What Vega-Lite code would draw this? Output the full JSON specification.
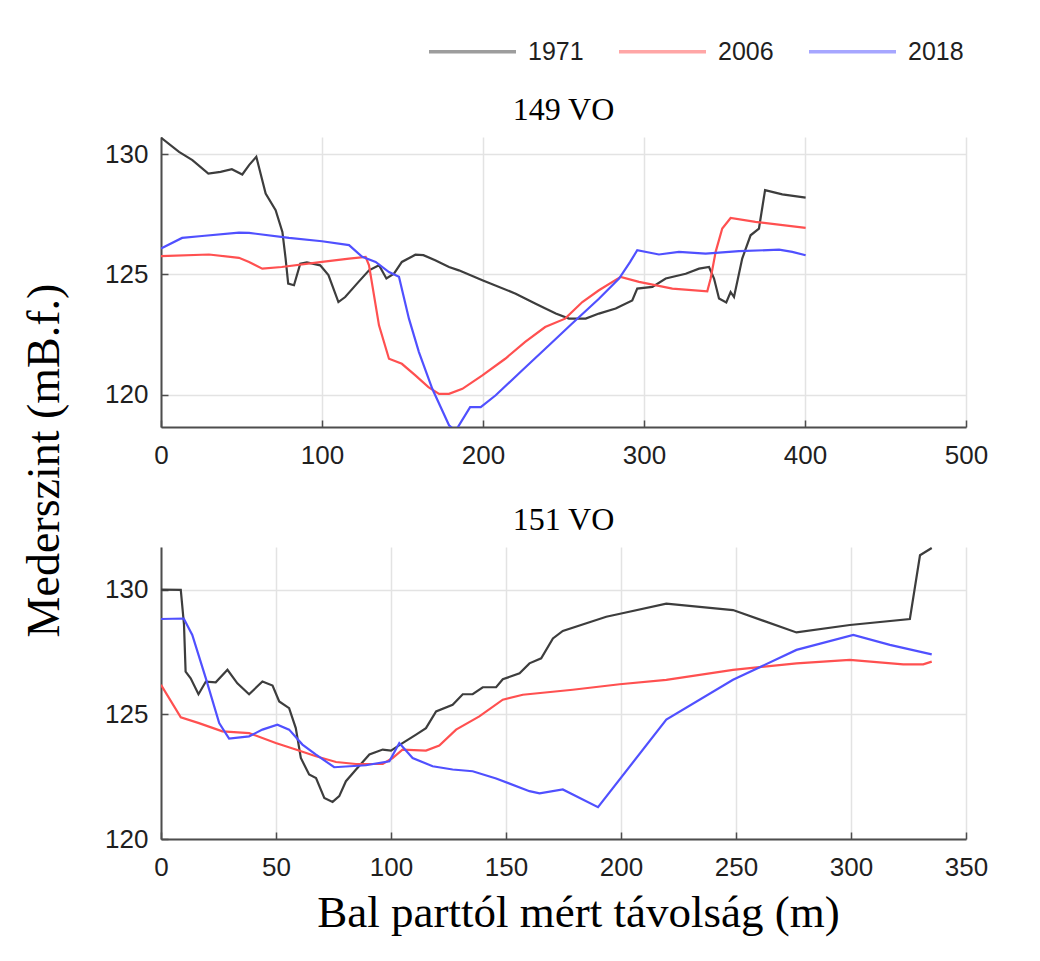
{
  "$schema": "https://vega.github.io/schema/vega-lite/v6.json",
  "background": "white",
  "padding": {"left": 21, "top": 6, "right": 40, "bottom": 20},
  "datasets": {
    "top": [
      {"year":"1971","d":0,"z":130.69},{"year":"1971","d":11.2,"z":130.1},{"year":"1971","d":19.5,"z":129.76},{"year":"1971","d":29.4,"z":129.2},{"year":"1971","d":37,"z":129.27},{"year":"1971","d":44,"z":129.38},{"year":"1971","d":50.5,"z":129.16},{"year":"1971","d":54.7,"z":129.55},{"year":"1971","d":59.2,"z":129.9},{"year":"1971","d":65,"z":128.37},{"year":"1971","d":71.2,"z":127.67},{"year":"1971","d":75.4,"z":126.77},{"year":"1971","d":77.4,"z":125.66},{"year":"1971","d":79,"z":124.62},{"year":"1971","d":82.6,"z":124.55},{"year":"1971","d":86.5,"z":125.45},{"year":"1971","d":90.6,"z":125.5},{"year":"1971","d":98.9,"z":125.38},{"year":"1971","d":104,"z":124.97},{"year":"1971","d":110.2,"z":123.85},{"year":"1971","d":114.4,"z":124.06},{"year":"1971","d":122.7,"z":124.69},{"year":"1971","d":129.2,"z":125.17},{"year":"1971","d":135.4,"z":125.38},{"year":"1971","d":140,"z":124.83},{"year":"1971","d":144.7,"z":125.03},{"year":"1971","d":149.6,"z":125.52},{"year":"1971","d":158,"z":125.82},{"year":"1971","d":163,"z":125.8},{"year":"1971","d":170.3,"z":125.59},{"year":"1971","d":178.9,"z":125.31},{"year":"1971","d":185,"z":125.17},{"year":"1971","d":199.6,"z":124.76},{"year":"1971","d":220.3,"z":124.2},{"year":"1971","d":232.7,"z":123.78},{"year":"1971","d":245.2,"z":123.37},{"year":"1971","d":253.4,"z":123.16},{"year":"1971","d":263.8,"z":123.16},{"year":"1971","d":272,"z":123.37},{"year":"1971","d":282.4,"z":123.58},{"year":"1971","d":292.7,"z":123.92},{"year":"1971","d":295.8,"z":124.41},{"year":"1971","d":305.2,"z":124.48},{"year":"1971","d":313.5,"z":124.83},{"year":"1971","d":325.9,"z":125.03},{"year":"1971","d":334.2,"z":125.24},{"year":"1971","d":340.4,"z":125.31},{"year":"1971","d":343.5,"z":124.83},{"year":"1971","d":346.6,"z":124},{"year":"1971","d":351.1,"z":123.83},{"year":"1971","d":353.8,"z":124.27},{"year":"1971","d":355.9,"z":124.06},{"year":"1971","d":361,"z":125.66},{"year":"1971","d":366.2,"z":126.63},{"year":"1971","d":371.4,"z":126.91},{"year":"1971","d":375.2,"z":128.51},{"year":"1971","d":385.9,"z":128.33},{"year":"1971","d":400.4,"z":128.2},
      {"year":"2006","d":0,"z":125.76},{"year":"2006","d":29.8,"z":125.83},{"year":"2006","d":48.4,"z":125.69},{"year":"2006","d":54.7,"z":125.52},{"year":"2006","d":62.9,"z":125.24},{"year":"2006","d":75,"z":125.31},{"year":"2006","d":100,"z":125.52},{"year":"2006","d":116.8,"z":125.66},{"year":"2006","d":127.1,"z":125.73},{"year":"2006","d":129.2,"z":125.38},{"year":"2006","d":135.4,"z":122.88},{"year":"2006","d":141.6,"z":121.49},{"year":"2006","d":149.6,"z":121.28},{"year":"2006","d":158,"z":120.8},{"year":"2006","d":166.1,"z":120.31},{"year":"2006","d":172.7,"z":120.03},{"year":"2006","d":178.9,"z":120.03},{"year":"2006","d":187.2,"z":120.24},{"year":"2006","d":199.6,"z":120.8},{"year":"2006","d":213.8,"z":121.49},{"year":"2006","d":226.2,"z":122.19},{"year":"2006","d":238.6,"z":122.81},{"year":"2006","d":251,"z":123.16},{"year":"2006","d":261.7,"z":123.85},{"year":"2006","d":272,"z":124.34},{"year":"2006","d":285.5,"z":124.9},{"year":"2006","d":296.9,"z":124.69},{"year":"2006","d":317.6,"z":124.41},{"year":"2006","d":339.3,"z":124.3},{"year":"2006","d":341.4,"z":124.83},{"year":"2006","d":344.5,"z":125.94},{"year":"2006","d":348.6,"z":126.91},{"year":"2006","d":353.8,"z":127.35},{"year":"2006","d":369.2,"z":127.19},{"year":"2006","d":400.4,"z":126.94},
      {"year":"2018","d":0,"z":126.08},{"year":"2018","d":13.1,"z":126.52},{"year":"2018","d":25.5,"z":126.6},{"year":"2018","d":48.4,"z":126.74},{"year":"2018","d":54.7,"z":126.73},{"year":"2018","d":79.5,"z":126.52},{"year":"2018","d":100,"z":126.38},{"year":"2018","d":116.8,"z":126.22},{"year":"2018","d":125,"z":125.73},{"year":"2018","d":133.3,"z":125.52},{"year":"2018","d":141.6,"z":125.1},{"year":"2018","d":147.8,"z":124.9},{"year":"2018","d":154,"z":123.16},{"year":"2018","d":160.2,"z":121.77},{"year":"2018","d":168.5,"z":120.24},{"year":"2018","d":178.9,"z":118.72},{"year":"2018","d":181,"z":118.6},{"year":"2018","d":184,"z":118.6},{"year":"2018","d":192,"z":119.48},{"year":"2018","d":198.6,"z":119.48},{"year":"2018","d":207.9,"z":119.97},{"year":"2018","d":224.4,"z":121.01},{"year":"2018","d":241,"z":122.05},{"year":"2018","d":255.2,"z":122.95},{"year":"2018","d":272,"z":123.99},{"year":"2018","d":284.5,"z":124.83},{"year":"2018","d":291.4,"z":125.52},{"year":"2018","d":295.8,"z":126.01},{"year":"2018","d":309.3,"z":125.83},{"year":"2018","d":321.7,"z":125.94},{"year":"2018","d":338.3,"z":125.87},{"year":"2018","d":359,"z":125.97},{"year":"2018","d":383.9,"z":126.03},{"year":"2018","d":392.1,"z":125.94},{"year":"2018","d":400.4,"z":125.8}
    ],
    "bottom": [
      {"year":"1971","d":0,"z":130.01},{"year":"1971","d":8.6,"z":130},{"year":"1971","d":10,"z":128.6},{"year":"1971","d":10.7,"z":126.72},{"year":"1971","d":12.9,"z":126.45},{"year":"1971","d":16.3,"z":125.81},{"year":"1971","d":19.5,"z":126.32},{"year":"1971","d":23.8,"z":126.29},{"year":"1971","d":28.9,"z":126.79},{"year":"1971","d":33.2,"z":126.25},{"year":"1971","d":38.3,"z":125.81},{"year":"1971","d":44.1,"z":126.32},{"year":"1971","d":48.5,"z":126.16},{"year":"1971","d":51.4,"z":125.52},{"year":"1971","d":55.7,"z":125.25},{"year":"1971","d":58.6,"z":124.45},{"year":"1971","d":60.8,"z":123.25},{"year":"1971","d":64.4,"z":122.59},{"year":"1971","d":67.4,"z":122.45},{"year":"1971","d":71,"z":121.65},{"year":"1971","d":74.6,"z":121.49},{"year":"1971","d":77.5,"z":121.72},{"year":"1971","d":80.4,"z":122.32},{"year":"1971","d":84.8,"z":122.79},{"year":"1971","d":90.6,"z":123.39},{"year":"1971","d":96.4,"z":123.59},{"year":"1971","d":100,"z":123.55},{"year":"1971","d":105,"z":123.85},{"year":"1971","d":110.9,"z":124.19},{"year":"1971","d":115.2,"z":124.45},{"year":"1971","d":119.6,"z":125.12},{"year":"1971","d":126.8,"z":125.39},{"year":"1971","d":131.2,"z":125.81},{"year":"1971","d":135.5,"z":125.81},{"year":"1971","d":139.9,"z":126.09},{"year":"1971","d":145.7,"z":126.09},{"year":"1971","d":148.6,"z":126.41},{"year":"1971","d":155.9,"z":126.65},{"year":"1971","d":160.2,"z":127.05},{"year":"1971","d":165.3,"z":127.25},{"year":"1971","d":170.4,"z":128.05},{"year":"1971","d":174.7,"z":128.35},{"year":"1971","d":193.6,"z":128.92},{"year":"1971","d":200.1,"z":129.05},{"year":"1971","d":219.7,"z":129.45},{"year":"1971","d":248.7,"z":129.19},{"year":"1971","d":276.3,"z":128.29},{"year":"1971","d":299.5,"z":128.59},{"year":"1971","d":325.6,"z":128.83},{"year":"1971","d":330,"z":131.39},{"year":"1971","d":335.1,"z":131.68},
      {"year":"2006","d":0,"z":126.19},{"year":"2006","d":8.6,"z":124.88},{"year":"2006","d":16.5,"z":124.65},{"year":"2006","d":26.7,"z":124.32},{"year":"2006","d":38.3,"z":124.25},{"year":"2006","d":49.9,"z":123.85},{"year":"2006","d":58.6,"z":123.59},{"year":"2006","d":67.4,"z":123.32},{"year":"2006","d":76.1,"z":123.09},{"year":"2006","d":84.8,"z":123.01},{"year":"2006","d":96.4,"z":123.01},{"year":"2006","d":100.7,"z":123.25},{"year":"2006","d":105,"z":123.59},{"year":"2006","d":115.2,"z":123.55},{"year":"2006","d":121,"z":123.75},{"year":"2006","d":128.3,"z":124.39},{"year":"2006","d":138.4,"z":124.92},{"year":"2006","d":148.6,"z":125.59},{"year":"2006","d":157.3,"z":125.79},{"year":"2006","d":179,"z":125.99},{"year":"2006","d":199.4,"z":126.21},{"year":"2006","d":219.7,"z":126.39},{"year":"2006","d":248.7,"z":126.79},{"year":"2006","d":276.3,"z":127.05},{"year":"2006","d":299.5,"z":127.19},{"year":"2006","d":322.7,"z":127.01},{"year":"2006","d":331.4,"z":127.01},{"year":"2006","d":335.1,"z":127.12},
      {"year":"2018","d":0,"z":128.83},{"year":"2018","d":9.9,"z":128.85},{"year":"2018","d":13.6,"z":128.19},{"year":"2018","d":19.5,"z":126.45},{"year":"2018","d":25.3,"z":124.65},{"year":"2018","d":29.6,"z":124.03},{"year":"2018","d":38.3,"z":124.12},{"year":"2018","d":44.1,"z":124.39},{"year":"2018","d":50.6,"z":124.59},{"year":"2018","d":55.7,"z":124.39},{"year":"2018","d":61.5,"z":123.79},{"year":"2018","d":67.4,"z":123.39},{"year":"2018","d":75.3,"z":122.88},{"year":"2018","d":89.1,"z":122.96},{"year":"2018","d":99.3,"z":123.12},{"year":"2018","d":103.6,"z":123.85},{"year":"2018","d":109.4,"z":123.25},{"year":"2018","d":118.1,"z":122.92},{"year":"2018","d":126.8,"z":122.79},{"year":"2018","d":135.5,"z":122.72},{"year":"2018","d":145.7,"z":122.43},{"year":"2018","d":160.2,"z":121.92},{"year":"2018","d":164.6,"z":121.83},{"year":"2018","d":174.7,"z":121.99},{"year":"2018","d":190,"z":121.28},{"year":"2018","d":219.7,"z":124.79},{"year":"2018","d":248.7,"z":126.39},{"year":"2018","d":276.3,"z":127.59},{"year":"2018","d":301,"z":128.19},{"year":"2018","d":316.9,"z":127.79},{"year":"2018","d":335.1,"z":127.41}
    ]
  },
  "bounds": "flush",
  "spacing": 120,
  "resolve": {"scale": {"color": "shared"}},
  "vconcat": [
    {
      "title": {"text": "149 VO"},
      "width": 805,
      "height": 290,
      "data": {"name": "top"},
      "mark": {"type": "line", "strokeWidth": 2.2, "clip": true},
      "encoding": {
        "x": {"field": "d", "type": "quantitative", "scale": {"domain": [0, 500], "nice": false}, "axis": {"values": [0, 100, 200, 300, 400, 500], "title": null}},
        "y": {"field": "z", "type": "quantitative", "scale": {"domain": [118.65, 130.72], "nice": false, "zero": false}, "axis": {"values": [120, 125, 130], "title": "Mederszint (mB.f.)", "titleFontSize": 46, "titleX": -117, "titleY": 323, "titleAlign": "center", "titleBaseline": "middle", "titleAngle": 270}},
        "color": {"field": "year", "type": "nominal", "scale": {"domain": ["1971", "2006", "2018"], "range": ["#3d3d3d", "#ff5050", "#5050ff"]}, "legend": {"title": null, "orient": "none", "legendX": 266, "legendY": -131, "direction": "horizontal"}}
      }
    },
    {
      "title": {"text": "151 VO"},
      "width": 805,
      "height": 292,
      "data": {"name": "bottom"},
      "mark": {"type": "line", "strokeWidth": 2.2, "clip": true},
      "encoding": {
        "x": {"field": "d", "type": "quantitative", "scale": {"domain": [0, 350], "nice": false}, "axis": {"values": [0, 50, 100, 150, 200, 250, 300, 350], "title": "Bal parttól mért távolság (m)", "titleX": 417, "titleAlign": "center", "titlePadding": 10}},
        "y": {"field": "z", "type": "quantitative", "scale": {"domain": [120, 131.72], "nice": false, "zero": false}, "axis": {"values": [120, 125, 130], "title": null}},
        "color": {"field": "year", "type": "nominal"}
      }
    }
  ],
  "config": {
    "view": {"stroke": null},
    "axis": {
      "labelFont": "Liberation Sans", "labelFontSize": 26, "labelColor": "#1f1f1f", "labelFlush": false,
      "domainColor": "#4d4d4d", "domainWidth": 2,
      "gridColor": "#e3e3e3", "gridWidth": 1.5,
      "tickColor": "#4d4d4d", "tickSize": -7, "tickWidth": 1.5, "labelPadding": 20,
      "titleFont": "Liberation Serif", "titleFontSize": 45, "titleFontWeight": "normal", "titleColor": "#000000"
    },
    "axisX": {"labelPadding": 22},
    "title": {"font": "Liberation Serif", "fontSize": 32, "fontWeight": "normal", "color": "#000000", "offset": 10, "anchor": "middle"},
    "legend": {
      "labelFont": "Liberation Sans", "labelFontSize": 25, "labelColor": "#1f1f1f",
      "symbolType": "stroke", "symbolSize": 7569, "symbolStrokeWidth": 3.5, "symbolOpacity": 0.5,
      "columnPadding": 28, "labelOffset": 10
    }
  }
}
